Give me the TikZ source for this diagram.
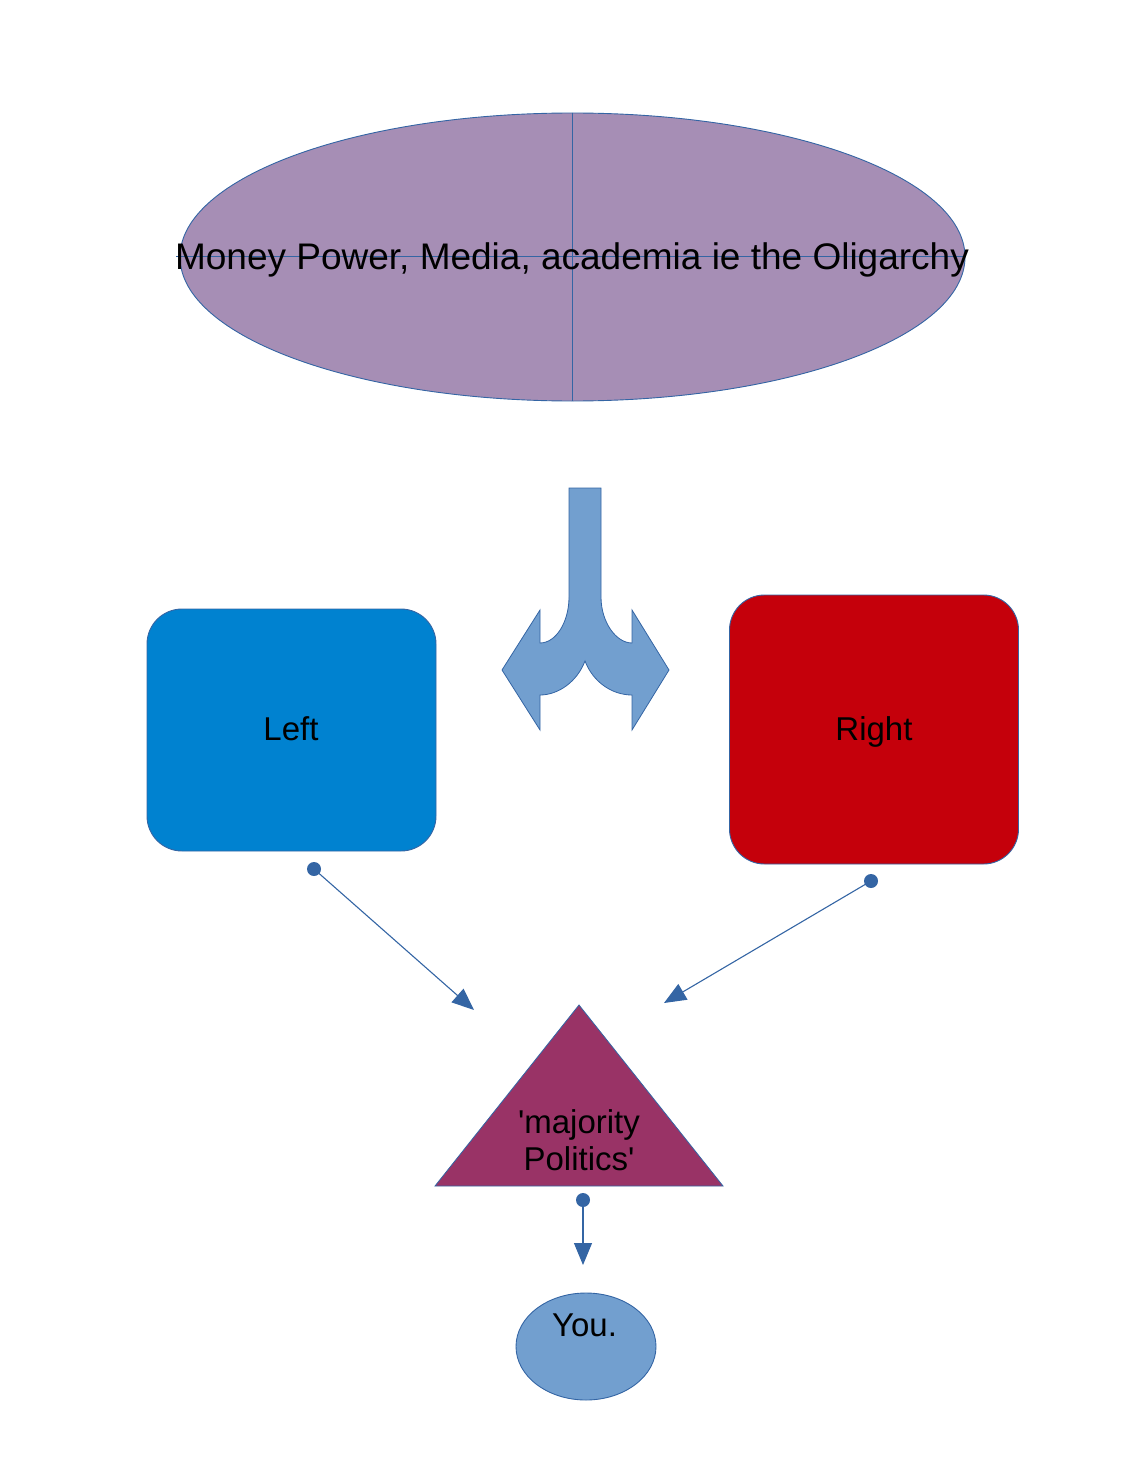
\documentclass[tikz,border=0pt]{standalone}
\usepackage{fontspec}
\setmainfont{Liberation Sans}
\usetikzlibrary{shapes.geometric,arrows.meta}
\definecolor{olig}{RGB}{166,142,181}
\definecolor{edge}{RGB}{52,101,164}
\definecolor{leftc}{RGB}{0,130,208}
\definecolor{rightc}{RGB}{197,0,11}
\definecolor{arrowc}{RGB}{114,159,207}
\definecolor{tric}{RGB}{153,51,102}
\tikzset{
  shapeedge/.style={draw=edge, line width=0.9pt},
  roundbox/.style={shapeedge, rectangle, rounded corners=35pt, minimum width=289pt, inner sep=0pt},
  label33/.style={font=\fontsize{33}{37.5}\selectfont, text=black, inner sep=0pt, align=center},
  dotnode/.style={circle, fill=edge, minimum size=14pt, inner sep=0pt},
  conn/.style={draw=edge, line width=1.1pt, -{Triangle[length=22pt,width=18pt]}},
}
\begin{document}
\begin{tikzpicture}[x=1pt,y=-1pt]
\useasboundingbox (0,0) rectangle (1139,1474);
% Oligarchy ellipse
\node[shapeedge, fill=olig, ellipse, minimum width=785pt, minimum height=288pt, inner sep=0pt] (oval) at (572.5,257) {};
\draw[edge, line width=0.9pt] (oval.north) -- (oval.south);
\coordinate (hl) at (176,256.5);
\coordinate (hr) at (966,256.5);
\draw[edge, line width=0.9pt] (hl) -- (hr);
\node[label33, font=\fontsize{37}{42}\selectfont, anchor=base] (ovaltext) at (572,269.3) {Money Power, Media, academia ie the Oligarchy};
% split arrow
\filldraw[fill=arrowc, draw=edge, line width=0.8pt]
  (569,488) -- (601,488) -- (601,597)
  .. controls (601,622) and (616,643) .. (632,643)
  -- (632,610) -- (669,670) -- (632,730) -- (632,695)
  .. controls (612,695) and (593,682) .. (585,661)
  .. controls (577,682) and (558,695) .. (540,695)
  -- (540,730) -- (502,670) -- (540,610) -- (540,643)
  .. controls (556,643) and (569,622) .. (569,597) -- cycle;
% boxes
\node[roundbox, fill=leftc, minimum height=242pt] (left) at (291.5,730) {};
\node[label33, anchor=base] (lefttext) at (291,740.7) {Left};
\node[roundbox, fill=rightc, minimum height=269pt] (right) at (874,729.5) {};
\node[label33, anchor=base] (righttext) at (874,740.7) {Right};
% triangle
\filldraw[fill=tric, draw=edge, line width=0.8pt] (579,1005) -- (723,1186) -- (435,1186) -- cycle;
\node[label33] (tritext) at (579,1140) {\textquotesingle majority\\Politics\textquotesingle};
% You
\node[shapeedge, fill=arrowc, ellipse, minimum width=140pt, minimum height=107pt, inner sep=0pt] (you) at (586,1346.5) {};
\node[label33, anchor=base] (youtext) at (584.5,1336.7) {You.};
% connectors
\node[dotnode] (d1) at (314,869) {};
\node[dotnode] (d2) at (871,881) {};
\node[dotnode] (d3) at (583,1200) {};
\coordinate (e1) at (474,1010);
\coordinate (e2) at (664,1003);
\coordinate (e3) at (583,1265);
\draw[conn] (d1.center) -- (e1);
\draw[conn] (d2.center) -- (e2);
\draw[conn] (d3.center) -- (e3);
\end{tikzpicture}
\end{document}
